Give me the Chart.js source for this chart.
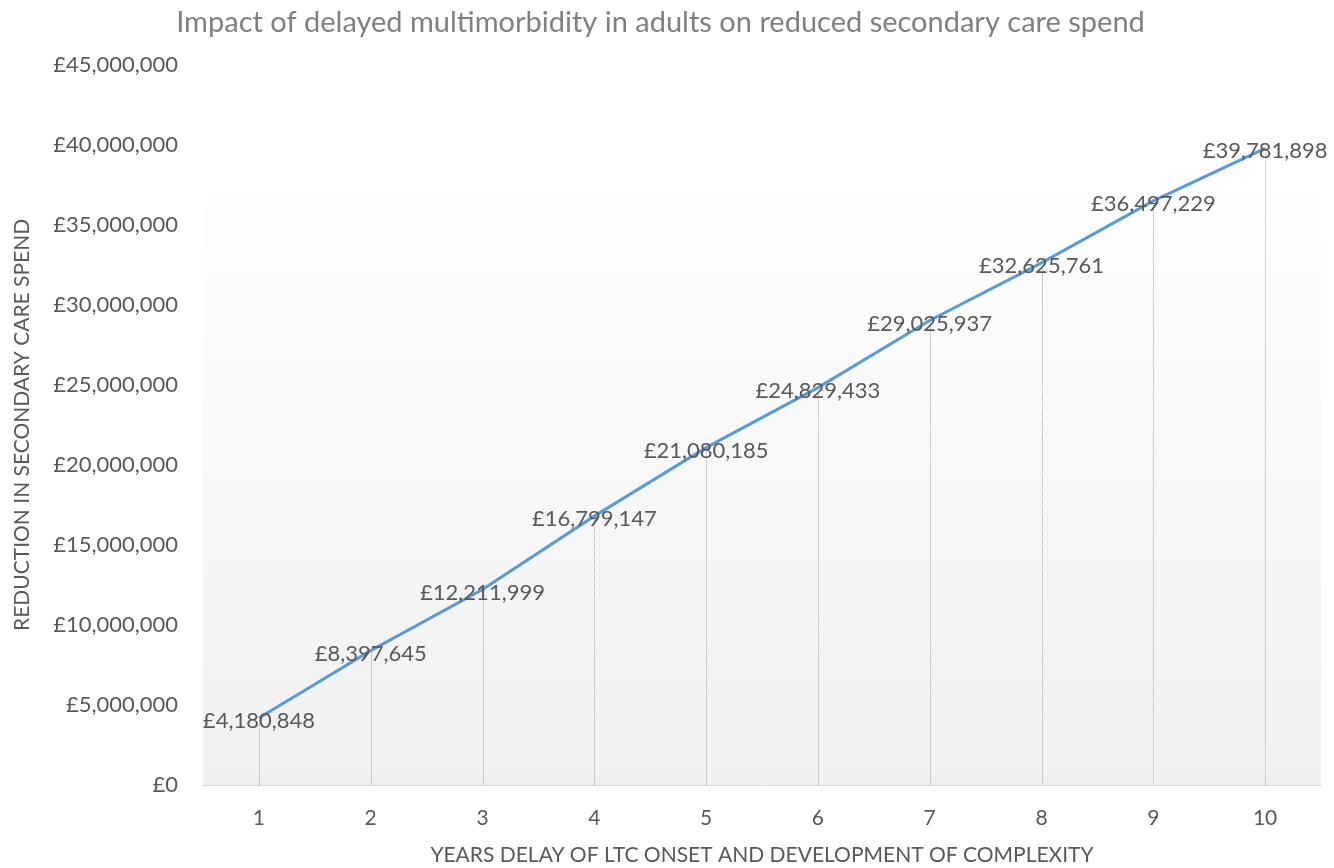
<!DOCTYPE html>
<html>
<head>
<meta charset="utf-8">
<script src="https://cdn.jsdelivr.net/npm/chart.js@4.4.1/dist/chart.umd.min.js"></script>
<style>
  html, body { margin: 0; padding: 0; background: #fff; }
  #wrap { width: 1334px; height: 868px; }
</style>
</head>
<body>
<div id="wrap"><canvas id="spendChart" width="1334" height="868"></canvas></div>
<script>
// Chart data
const years = ['1', '2', '3', '4', '5', '6', '7', '8', '9', '10'];
const spendReduction = [4180848, 8397645, 12211999, 16799147, 21080185, 24829433, 29025937, 32625761, 36497229, 39781898];
const yTicks = [0, 5000000, 10000000, 15000000, 20000000, 25000000, 30000000, 35000000, 40000000, 45000000];

const FONT = 'Lato, "Open Sans", sans-serif';

function fmtPounds(v) {
    return '£' + Math.round(v).toLocaleString('en-GB');
}

// gradient fill behind the plot area
const plotBackground = {
    id: 'plotBackground',
    beforeDraw(chart) {
        const { ctx, chartArea: a } = chart;
        const g = ctx.createLinearGradient(0, a.top, 0, a.bottom);
        g.addColorStop(0, '#ffffff');
        g.addColorStop(0.15, '#ffffff');
        g.addColorStop(1, '#f0f0f0');
        ctx.save();
        ctx.fillStyle = g;
        ctx.fillRect(a.left, a.top, a.right - a.left, a.bottom - a.top);
        ctx.restore();
    }
};

// dotted drop lines from each point down to the axis
const dropLines = {
    id: 'dropLines',
    beforeDatasetsDraw(chart) {
        const { ctx, chartArea: a } = chart;
        const meta = chart.getDatasetMeta(0);
        ctx.save();
        ctx.strokeStyle = '#a6a6a6';
        ctx.lineWidth = 1;
        ctx.setLineDash([1, 1]);
        meta.data.forEach(pt => {
            const x = Math.round(pt.x) + 0.5;
            ctx.beginPath();
            ctx.moveTo(x, pt.y);
            ctx.lineTo(x, a.bottom);
            ctx.stroke();
        });
        ctx.restore();
    }
};

// value labels centred on the points
const valueLabels = {
    id: 'valueLabels',
    afterDatasetsDraw(chart) {
        const { ctx } = chart;
        const meta = chart.getDatasetMeta(0);
        const data = chart.data.datasets[0].data;
        ctx.save();
        ctx.font = '22px ' + FONT;
        ctx.fillStyle = '#595959';
        ctx.textAlign = 'center';
        ctx.textBaseline = 'middle';
        meta.data.forEach((pt, i) => {
            ctx.fillText(fmtPounds(data[i]), pt.x, pt.y + 3);
        });
        ctx.restore();
    }
};

const ctx = document.getElementById('spendChart').getContext('2d');
const spendChart = new Chart(ctx, {
    type: 'line',
    data: {
        labels: years,
        datasets: [{
            label: 'Reduction',
            data: spendReduction,
            borderColor: '#5b9bd5',
            borderWidth: 3,
            pointRadius: 0,
            tension: 0,
            fill: false
        }]
    },
    options: {
        responsive: false,
        animation: false,
        devicePixelRatio: 1,
        layout: { padding: { left: 0, right: 13, top: 0, bottom: 0 } },
        plugins: {
            legend: { display: false },
            tooltip: { enabled: false },
            title: {
                display: true,
                text: 'Impact of delayed multimorbidity in adults on reduced secondary care spend',
                color: '#808080',
                font: { family: FONT, size: 29, weight: 'normal' },
                padding: { top: 5, bottom: 25 }
            }
        },
        scales: {
            x: {
                offset: true,
                grid: {
                    display: true,
                    drawOnChartArea: false,
                    drawTicks: false,
                    color: '#d9d9d9'
                },
                border: { display: true, color: '#d9d9d9', width: 1 },
                ticks: {
                    color: '#595959',
                    font: { family: FONT, size: 21 },
                    padding: 21
                },
                title: {
                    display: true,
                    text: 'YEARS DELAY OF LTC ONSET AND DEVELOPMENT OF COMPLEXITY',
                    color: '#595959',
                    font: { family: FONT, size: 21 },
                    padding: { top: 0, bottom: 0 }
                },
                afterFit(scale) { scale.height = 83; }
            },
            y: {
                min: 0,
                max: 45000000,
                grid: { display: false, drawTicks: false },
                border: { display: false },
                afterBuildTicks(scale) {
                    scale.ticks = yTicks.map(v => ({ value: v }));
                },
                ticks: {
                    color: '#595959',
                    font: { family: FONT, size: 22 },
                    padding: 25,
                    callback: v => fmtPounds(v)
                },
                title: {
                    display: true,
                    text: 'REDUCTION IN SECONDARY CARE SPEND',
                    color: '#595959',
                    font: { family: FONT, size: 21 },
                    padding: { top: 10, bottom: 0 }
                },
                afterFit(scale) { scale.width = 203; }
            }
        }
    },
    plugins: [plotBackground, dropLines, valueLabels]
});
</script>
</body>
</html>
